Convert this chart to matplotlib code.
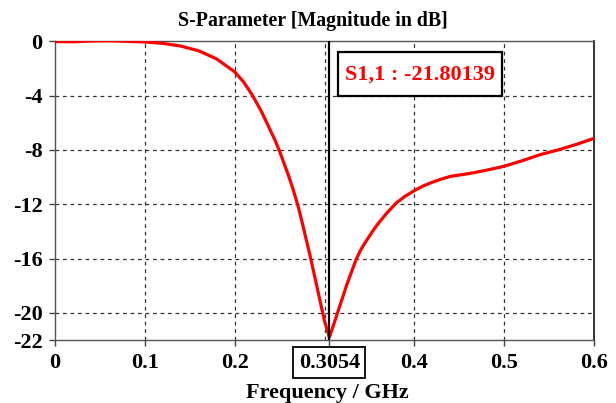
import numpy as np
import matplotlib
matplotlib.use('Agg')
import matplotlib.pyplot as plt
from matplotlib.patches import Rectangle

# S11 magnitude
freq = [0, 0.02, 0.04, 0.06, 0.08, 0.1, 0.12, 0.14, 0.16, 0.18, 0.2, 0.21, 0.22,
        0.225, 0.23, 0.235, 0.24, 0.245, 0.25, 0.255, 0.26, 0.265, 0.27, 0.275,
        0.28, 0.285, 0.29, 0.295, 0.3, 0.3054, 0.31, 0.315, 0.32, 0.325, 0.33,
        0.335, 0.34, 0.345, 0.35, 0.355, 0.36, 0.37, 0.38, 0.39, 0.4, 0.41,
        0.42, 0.43, 0.44, 0.46, 0.48, 0.5, 0.52, 0.54, 0.56, 0.58, 0.6]
s11_db = [-0.02, -0.03, 0.02, 0.04, 0.0, -0.05, -0.15, -0.35, -0.7, -1.3, -2.25,
          -3.0, -4.0, -4.6, -5.2, -5.9, -6.6, -7.3, -8.1, -9.0, -9.9, -10.9,
          -12.0, -13.3, -14.7, -16.1, -17.6, -19.1, -20.6, -21.8, -20.9, -19.9,
          -18.9, -17.9, -17.0, -16.1, -15.4, -14.85, -14.35, -13.85, -13.4,
          -12.6, -11.9, -11.4, -11.0, -10.65, -10.38, -10.15, -9.95, -9.75,
          -9.5, -9.2, -8.8, -8.35, -8.0, -7.6, -7.15]
marker_f = 0.3054
marker_val = -21.80139
xticks = [0, 0.1, 0.2, marker_f, 0.4, 0.5, 0.6]
xticklabels = ['0', '0.1', '0.2', '0.3054', '0.4', '0.5', '0.6']
yticks = [0, -4, -8, -12, -16, -20, -22]
xgrid = [0.1, 0.2, 0.3, 0.4, 0.5]
ygrid = [-4, -8, -12, -16, -20]

plt.rcParams['font.family'] = ['Liberation Serif', 'DejaVu Serif']
plt.rcParams['font.weight'] = 'bold'

fig = plt.figure(figsize=(6.16, 4.03), dpi=100)
ax = fig.add_axes([55/616, 1 - 340/403, 539/616, 298.7/403])

for g in xgrid:
    ax.axvline(g, color='#333333', lw=0.9, ls=(0, (3, 3)), zorder=1)
for g in ygrid:
    ax.axhline(g, color='#333333', lw=0.9, ls=(0, (3, 3)), zorder=1)

ax.plot(freq, s11_db, color='#ff0000', lw=2.3, zorder=3)
ax.axvline(marker_f, color='black', lw=1.6, zorder=4)

ax.set_xlim(0, 0.6)
ax.set_ylim(-22, 0)
ax.set_xticks(xticks)
ax.set_xticklabels(xticklabels)
ax.set_yticks(yticks)
ax.set_yticklabels([str(t) for t in yticks])
ax.tick_params(direction='out', length=4, width=1, color='#444444',
               labelsize=16, pad=5)
for lbl in ax.get_xticklabels():
    lbl.set_fontweight('bold')
    if lbl.get_text() == '0.3054':
        lbl.set_bbox(dict(facecolor='white', edgecolor='black', lw=1.3,
                          boxstyle='square,pad=0.25'))
for lbl in ax.get_yticklabels():
    lbl.set_fontweight('bold')

for side in ['left', 'bottom', 'top']:
    ax.spines[side].set_color('#555555')
    ax.spines[side].set_linewidth(1.0)
ax.spines['right'].set_color('#222222')
ax.spines['right'].set_linewidth(1.3)

# marker readout box
ax.add_patch(Rectangle((0.525, 0.817), 0.304, 0.147, transform=ax.transAxes,
                       facecolor='white', edgecolor='black', lw=1.6, zorder=5))
ax.text(0.677, 0.89, 'S1,1 : %.5f' % marker_val, transform=ax.transAxes,
        color='#ff0000', fontsize=16, fontweight='bold', ha='center',
        va='center', zorder=6)

fig.text(313/616, 1 - 21/403, 'S-Parameter [Magnitude in dB]', ha='center',
         va='center', fontsize=14.3, fontweight='bold')
fig.text(327/616, 1 - 393/403, 'Frequency / GHz', ha='center', va='center',
         fontsize=16, fontweight='bold')

fig.savefig('out.png', dpi=100)
